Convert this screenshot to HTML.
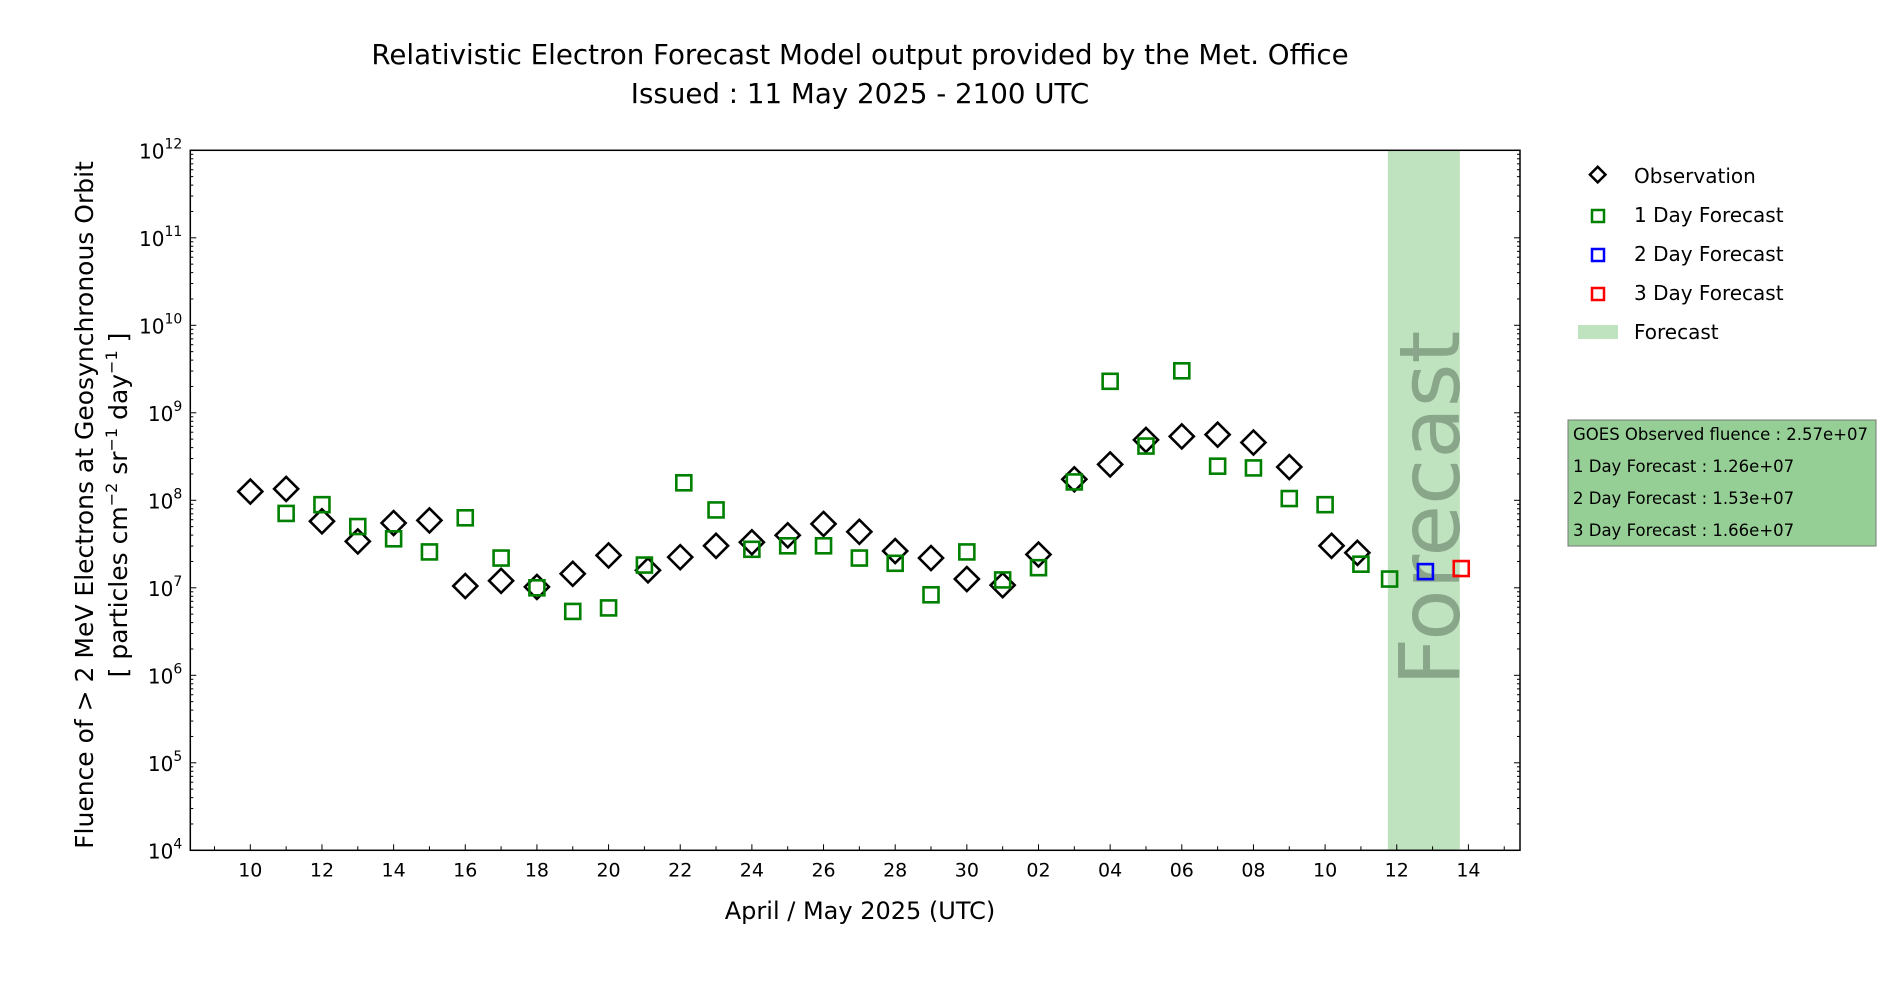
<!DOCTYPE html>
<html><head><meta charset="utf-8"><style>
html,body{margin:0;padding:0;background:#fff;width:1900px;height:1000px;overflow:hidden}
svg{display:block;font-family:"DejaVu Sans","Liberation Sans",sans-serif}
</style></head><body>
<svg id="chart" width="1900" height="1000" viewBox="0 0 1900 1000" xmlns="http://www.w3.org/2000/svg">
<text x="860" y="64" font-size="27.7" text-anchor="middle">Relativistic Electron Forecast Model output provided by the Met. Office</text>
<text x="860" y="103" font-size="27.7" text-anchor="middle">Issued : 11 May 2025 - 2100 UTC</text>
<g id="plot"></g>
<text x="860" y="919" font-size="24" text-anchor="middle">April / May 2025 (UTC)</text>
<g transform="translate(0,505) rotate(-90)" font-size="25" text-anchor="middle">
<text x="0" y="93">Fluence of &gt; 2 MeV Electrons at Geosynchronous Orbit</text>
<text x="0" y="127">[ particles cm<tspan dy="-10" font-size="16">−2</tspan><tspan dy="10"> sr</tspan><tspan dy="-10" font-size="16">−1</tspan><tspan dy="10"> day</tspan><tspan dy="-10" font-size="16">−1</tspan><tspan dy="10"> ]</tspan></text>
</g>
<g font-size="20">
<rect x="1591" y="169" width="11" height="11" transform="rotate(45 1597 176)" fill="none" stroke="#000" stroke-width="2.5"/>
<text x="1634" y="183">Observation</text>
<rect x="1592" y="210" width="12" height="12" fill="none" stroke="#008000" stroke-width="2.5"/>
<text x="1634" y="222">1 Day Forecast</text>
<rect x="1592" y="249" width="12" height="12" fill="none" stroke="#0000ff" stroke-width="2.5"/>
<text x="1634" y="261">2 Day Forecast</text>
<rect x="1592" y="288" width="12" height="12" fill="none" stroke="#ff0000" stroke-width="2.5"/>
<text x="1634" y="300">3 Day Forecast</text>
<rect x="1578" y="325" width="40" height="14" fill="#bfe3bf"/>
<text x="1634" y="339">Forecast</text>
</g>
<g font-size="16.5">
<rect x="1568" y="420" width="308" height="126" fill="#96cf96" stroke="#777" stroke-width="1"/>
<text x="1573" y="440">GOES Observed fluence : 2.57e+07</text>
<text x="1573" y="472">1 Day Forecast : 1.26e+07</text>
<text x="1573" y="504">2 Day Forecast : 1.53e+07</text>
<text x="1573" y="536">3 Day Forecast : 1.66e+07</text>
</g>
</svg>
<script>
// Data (x = days since 10 April 2025, y = log10 fluence)
const obsDays = [0,1,2,3,4,5,6,7,8,9,10,11.1,12,13,14,15,16,17,18,19,20,21,22,23,24,25,26,27,28,29,30.18,30.9];
const obsLog = [8.10,8.13,7.76,7.53,7.74,7.77,7.02,7.08,7.01,7.16,7.37,7.20,7.35,7.48,7.52,7.60,7.73,7.64,7.42,7.34,7.10,7.03,7.38,8.24,8.41,8.69,8.73,8.75,8.66,8.38,7.48,7.40];
const f1Days = [1,2,3,4,5,6,7,8,9,10,11,12.1,13,14,15,16,17,18,19,20,21,22,23,24,25,26,27,28,29,30,31,31.8];
const f1Log = [7.85,7.95,7.70,7.56,7.41,7.80,7.34,7.00,6.73,6.77,7.26,8.20,7.89,7.44,7.48,7.48,7.34,7.28,6.92,7.41,7.09,7.23,8.21,9.36,8.62,9.48,8.39,8.37,8.02,7.95,7.27,7.10];
const f2Days = [32.8];
const f2Log = [7.185];
const f3Days = [33.8];
const f3Log = [7.22];
const xTickDays = [0,2,4,6,8,10,12,14,16,18,20,22,24,26,28,30,32,34];
const xTickLabels = ["10","12","14","16","18","20","22","24","26","28","30","02","04","06","08","10","12","14"];
const yTickExps = [4,5,6,7,8,9,10,11,12];
const forecastBand = [31.75, 33.76];

const L=190.3,R=1520,T=150.3,B=850.3;
const xMin=-1.675,xMax=35.44,yMin=4,yMax=12;
const sx=d=>L+(d-xMin)/(xMax-xMin)*(R-L);
const sy=e=>B-(e-yMin)/(yMax-yMin)*(B-T);
const NS="http://www.w3.org/2000/svg";
const g=document.getElementById('plot');
function mk(tag,attrs,parent){const e=document.createElementNS(NS,tag);for(const k in attrs)e.setAttribute(k,attrs[k]);(parent||g).appendChild(e);return e;}

const band=mk('rect',{x:sx(forecastBand[0]),y:T,width:sx(forecastBand[1])-sx(forecastBand[0]),height:B-T,fill:'#bfe3bf'});


const ft=mk('text',{transform:`translate(${(sx(forecastBand[0])+sx(forecastBand[1]))/2+35},${(T+B)/2+8}) rotate(-90)`,'font-size':'84','text-anchor':'middle',fill:'#8aa68a'});
ft.textContent='Forecast';



const frame=mk('rect',{x:L,y:T,width:R-L,height:B-T,fill:'none',stroke:'#000','stroke-width':1.5});



for(let d=Math.ceil(xMin);d<=xMax;d++){const x=sx(d);const major=xTickDays.includes(d);
 mk('line',{x1:x,x2:x,y1:B,y2:B-(major?6:4),stroke:'#000','stroke-width':1});}
xTickDays.forEach((d,i)=>{const t=mk('text',{x:sx(d),y:B+26,'font-size':'19','text-anchor':'middle'});t.textContent=xTickLabels[i];
 
 });
yTickExps.forEach(e=>{const y=sy(e);
 mk('line',{x1:L,x2:L+6,y1:y,y2:y,stroke:'#000'});mk('line',{x1:R,x2:R-6,y1:y,y2:y,stroke:'#000'});
 if(e<yMax)for(let m=2;m<10;m++){const ym=sy(e+Math.log10(m));mk('line',{x1:L,x2:L+3,y1:ym,y2:ym,stroke:'#000'});mk('line',{x1:R,x2:R-3,y1:ym,y2:ym,stroke:'#000'});}
 const t=mk('text',{x:L-8,y:y+8,'font-size':'20','text-anchor':'end'});
 t.innerHTML='10<tspan dy="-10" font-size="14">'+e+'</tspan>';
 
 });

obsDays.forEach((d,i)=>{const x=sx(d),y=sy(obsLog[i]);
 const p=mk('rect',{x:x-8.5,y:y-8.5,width:17,height:17,transform:`rotate(45 ${x} ${y})`,fill:'none',stroke:'#000','stroke-width':2.6});
 
 });
function squares(days,vals,col,name){days.forEach((d,i)=>{const x=sx(d),y=sy(vals[i]);
 const p=mk('rect',{x:x-7.5,y:y-7.5,width:15,height:15,fill:'none',stroke:col,'stroke-width':2.6});
 
 });}
squares(f1Days,f1Log,'#008000','forecast-1day-point');
squares(f2Days,f2Log,'#0000ff','forecast-2day-point');
squares(f3Days,f3Log,'#ff0000','forecast-3day-point');
</script>
</body></html>
